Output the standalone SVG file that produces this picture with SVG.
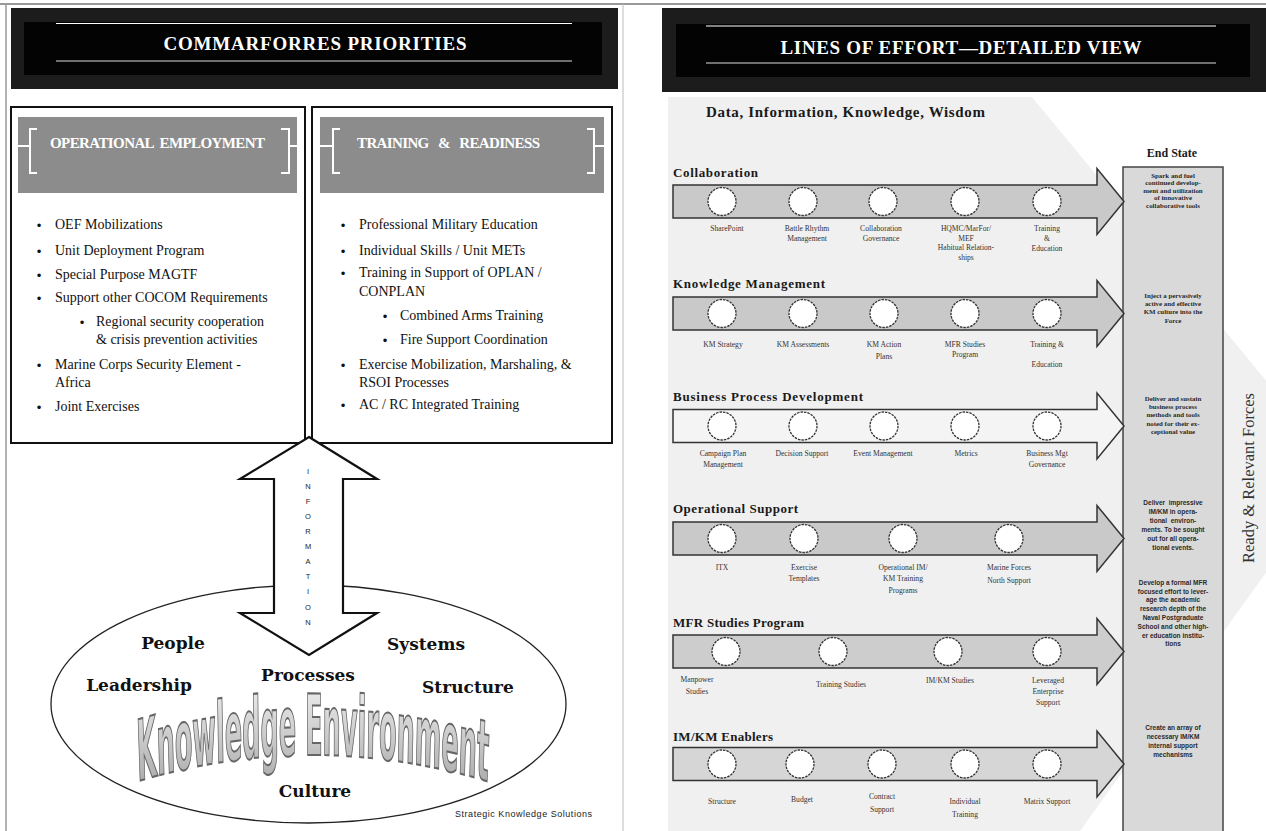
<svg xmlns="http://www.w3.org/2000/svg" width="1266" height="831" viewBox="0 0 1266 831">
<defs>
<style>
.hdr-t{font-family:"Liberation Serif",serif;font-weight:bold;font-size:19px;fill:#fff;text-anchor:middle}
.band-t{font-family:"Liberation Serif",serif;font-weight:bold;font-size:15px;fill:#fff;white-space:pre}
.li{font-family:"Liberation Serif",serif;font-size:14px;fill:#111}
.bul{font-family:"DejaVu Sans",sans-serif;font-size:12px;fill:#111;text-anchor:middle}
.ke{font-family:"DejaVu Serif",serif;font-weight:bold;font-size:17px;fill:#111;text-anchor:middle}
.info{font-family:"Liberation Sans",sans-serif;font-size:7.5px;fill:#222;text-anchor:middle}
.row-t{font-family:"Liberation Serif",serif;font-weight:bold;font-size:13px;fill:#1a1a1a}
.lab{font-family:"Liberation Serif",serif;font-size:7.6px;fill:#333;text-anchor:middle}
.es{font-family:"Liberation Serif",serif;font-weight:bold;font-size:6.9px;fill:#2a2a2a;text-anchor:middle}
.es2{font-family:"Liberation Sans",sans-serif;font-weight:bold;font-size:6.5px;fill:#2a2a2a;text-anchor:middle;white-space:pre}
.node{fill:#fff;stroke:#333;stroke-width:1.3;stroke-dasharray:2.5 1}
.arr{stroke:#333;stroke-width:1.5}
.brk{fill:none;stroke:#fff;stroke-width:2}
.box{fill:#fff;stroke:#111;stroke-width:2}
</style>
<linearGradient id="keg" x1="0" y1="0" x2="0" y2="1">
<stop offset="0" stop-color="#f2f2f2"/>
<stop offset="1" stop-color="#a0a0a0"/>
</linearGradient>
</defs>
<rect width="1266" height="831" fill="#fff"/>
<!-- frame lines -->
<line x1="0" y1="4" x2="1266" y2="4" stroke="#999" stroke-width="2"/>
<line x1="6" y1="4" x2="6" y2="831" stroke="#999" stroke-width="1.5"/>
<line x1="623" y1="4" x2="623" y2="831" stroke="#bbb" stroke-width="1"/>

<!-- LEFT PANEL -->
<g id="left-header">
<rect x="11" y="8" width="607" height="81" fill="#1c1c1c"/>
<rect x="24" y="22" width="578" height="53" fill="#030303"/>
<line x1="56" y1="23.5" x2="572" y2="23.5" stroke="#fff" stroke-width="1.2"/>
<line x1="56" y1="61" x2="572" y2="61" stroke="#ddd" stroke-width="1"/>
<text class="hdr-t" x="315" y="50" textLength="303">COMMARFORRES PRIORITIES</text>
</g>

<g id="box-operational">
<rect class="box" x="11" y="107" width="294" height="336"/>
<rect x="18" y="117" width="279" height="76" fill="#8c8c8c"/>
<path class="brk" d="M18 146H30M37 129H30V173H37M297 146H289M281 129H289V173H281"/>
<text class="band-t" x="50" y="148" textLength="215" lengthAdjust="spacing">OPERATIONAL  EMPLOYMENT</text>
<g class="bul"><text x="39" y="230">•</text><text x="39" y="256">•</text><text x="39" y="280">•</text><text x="39" y="303">•</text><text x="82" y="327">•</text><text x="39" y="370">•</text><text x="39" y="412">•</text></g>
<text class="li" x="55" y="229">OEF Mobilizations</text>
<text class="li" x="55" y="255">Unit Deployment Program</text>
<text class="li" x="55" y="279">Special Purpose MAGTF</text>
<text class="li" x="55" y="302">Support other COCOM Requirements</text>
<text class="li" x="96" y="326">Regional security cooperation</text>
<text class="li" x="96" y="344">&amp; crisis prevention activities</text>
<text class="li" x="55" y="369">Marine Corps Security Element -</text>
<text class="li" x="55" y="387">Africa</text>
<text class="li" x="55" y="411">Joint Exercises</text>
</g>

<g id="box-training">
<rect class="box" x="312" y="107" width="300" height="336"/>
<rect x="320" y="117" width="284" height="76" fill="#8c8c8c"/>
<path class="brk" d="M320 146H333M340 129H333V173H340M604 146H594M587 129H594V173H587"/>
<text class="band-t" x="357" y="148" textLength="183" lengthAdjust="spacing">TRAINING   &amp;   READINESS</text>
<g class="bul"><text x="343" y="230">•</text><text x="343" y="256">•</text><text x="343" y="278">•</text><text x="385" y="321">•</text><text x="385" y="345">•</text><text x="343" y="370">•</text><text x="343" y="410">•</text></g>
<text class="li" x="359" y="229">Professional Military Education</text>
<text class="li" x="359" y="255">Individual Skills / Unit METs</text>
<text class="li" x="359" y="277">Training in Support of OPLAN /</text>
<text class="li" x="359" y="296">CONPLAN</text>
<text class="li" x="400" y="320">Combined Arms Training</text>
<text class="li" x="400" y="344">Fire Support Coordination</text>
<text class="li" x="359" y="369">Exercise Mobilization, Marshaling, &amp;</text>
<text class="li" x="359" y="387">RSOI Processes</text>
<text class="li" x="359" y="409">AC / RC Integrated Training</text>
</g>

<g id="knowledge-environment">
<ellipse cx="308.5" cy="704" rx="257.5" ry="119" fill="#fff" stroke="#222" stroke-width="1.3"/>
<g transform="translate(133 0) scale(0.436 1.3)">
<path id="kepath" d="M-40 606.6Q412.8 555 865.6 606.6" fill="none"/>
<text style="font-family:'DejaVu Sans Condensed','DejaVu Sans',sans-serif;font-weight:bold;font-size:65px;text-anchor:middle" fill="url(#keg)" stroke="#666" stroke-width="1.6"><textPath href="#kepath" startOffset="50%">Knowledge Environment</textPath></text>
</g>
<text class="ke" x="173" y="649">People</text>
<text class="ke" x="426" y="650">Systems</text>
<text class="ke" x="308" y="681">Processes</text>
<text class="ke" x="139" y="691">Leadership</text>
<text class="ke" x="468" y="693">Structure</text>
<text class="ke" x="315" y="797">Culture</text>
<text x="523.5" y="817" text-anchor="middle" textLength="137" style="font-family:'Liberation Sans',sans-serif;font-size:9px;fill:#222">Strategic Knowledge Solutions</text>
</g>

<g id="connectors">
<polygon points="309,437 377,479 343,479 343,613 377,613 309,655 240,613 274,613 274,479 240,479" fill="#fff" stroke="#111" stroke-width="2.2" stroke-linejoin="miter"/>
<g class="info">
<text x="308" y="474">I</text><text x="308" y="489">N</text><text x="308" y="504">F</text><text x="308" y="519">O</text><text x="308" y="534">R</text><text x="308" y="549">M</text><text x="308" y="564">A</text><text x="308" y="579">T</text><text x="308" y="594">I</text><text x="308" y="610">O</text><text x="308" y="625">N</text>
</g>
</g>

<!-- RIGHT PANEL -->
<g id="right-background">
<polygon points="668,97 1032,97 1340,470 1080,831 668,831" fill="#f0f0f0"/>
</g>
<g id="right-header">
<rect x="662" y="8" width="604" height="84" fill="#1c1c1c"/>
<rect x="676" y="24" width="574" height="53" fill="#030303"/>
<line x1="706" y1="26" x2="1216" y2="26" stroke="#fff" stroke-width="1.2"/>
<line x1="706" y1="63" x2="1216" y2="63" stroke="#ddd" stroke-width="1"/>
<text class="hdr-t" x="961" y="54" textLength="361">LINES OF EFFORT—DETAILED VIEW</text>
</g>
<text x="706" y="117" textLength="279" style="font-family:'Liberation Serif',serif;font-weight:bold;font-size:15px;fill:#1a1a1a">Data, Information, Knowledge, Wisdom</text>

<g id="end-state">
<text x="1172" y="157" text-anchor="middle" style="font-family:'Liberation Serif',serif;font-weight:bold;font-size:12px;fill:#1a1a1a">End State</text>
<rect x="1123" y="167" width="100" height="670" fill="#d9d9d9" stroke="#444" stroke-width="1.5"/>
<text class="es" x="1173"><tspan x="1173" y="177.5">Spark and fuel</tspan><tspan x="1173" y="185">continued develop-</tspan><tspan x="1173" y="192.5">ment and utilization</tspan><tspan x="1173" y="200">of innovative</tspan><tspan x="1173" y="208">collaborative tools</tspan></text>
<text class="es" x="1173"><tspan x="1173" y="297.5">Inject a pervasively</tspan><tspan x="1173" y="305.5">active and effective</tspan><tspan x="1173" y="314">KM culture into the</tspan><tspan x="1173" y="322.5">Force</tspan></text>
<text class="es" x="1173"><tspan x="1173" y="400.5">Deliver and sustain</tspan><tspan x="1173" y="409">business process</tspan><tspan x="1173" y="417">methods and tools</tspan><tspan x="1173" y="425.5">noted for their ex-</tspan><tspan x="1173" y="433.5">ceptional value</tspan></text>
<text class="es2" x="1173"><tspan x="1173" y="504.5">Deliver  impressive</tspan><tspan x="1173" y="513.5">IM/KM in opera-</tspan><tspan x="1173" y="522.5">tional  environ-</tspan><tspan x="1173" y="531.5">ments. To be sought</tspan><tspan x="1173" y="540.5">out for all opera-</tspan><tspan x="1173" y="549.5">tional events.</tspan></text>
<text class="es2" x="1173"><tspan x="1173" y="584.5">Develop a formal MFR</tspan><tspan x="1173" y="593.5">focused effort to lever-</tspan><tspan x="1173" y="601.5">age the academic</tspan><tspan x="1173" y="610.5">research depth of the</tspan><tspan x="1173" y="619.5">Naval Postgraduate</tspan><tspan x="1173" y="628.5">School and other high-</tspan><tspan x="1173" y="637.5">er education institu-</tspan><tspan x="1173" y="645.5">tions</tspan></text>
<text class="es2" x="1173"><tspan x="1173" y="729.5">Create an array of</tspan><tspan x="1173" y="738.5">necessary IM/KM</tspan><tspan x="1173" y="747.5">internal support</tspan><tspan x="1173" y="756.5">mechanisms</tspan></text>
</g>
<text transform="translate(1254 478) rotate(-90)" text-anchor="middle" style="font-family:'Liberation Serif',serif;font-size:16.5px;fill:#333">Ready &amp; Relevant Forces</text>

<g id="row-collaboration">
<text class="row-t" x="673" y="177" textLength="85">Collaboration</text>
<polygon class="arr" fill="#c9c9c9" points="673,185 1097,185 1097,168.5 1124,201.5 1097,234.5 1097,218 673,218"/>
<circle class="node" cx="722" cy="201.5" r="14"/><circle class="node" cx="803" cy="201.5" r="14"/><circle class="node" cx="883" cy="201.5" r="14"/><circle class="node" cx="965" cy="201.5" r="14"/><circle class="node" cx="1047" cy="201.5" r="14"/>
<text class="lab" x="727" y="231">SharePoint</text>
<text class="lab"><tspan x="807" y="231">Battle Rhythm</tspan><tspan x="807" y="241">Management</tspan></text>
<text class="lab"><tspan x="881" y="231">Collaboration</tspan><tspan x="881" y="241">Governance</tspan></text>
<text class="lab"><tspan x="966" y="231">HQMC/MarFor/</tspan><tspan x="966" y="240.5">MEF</tspan><tspan x="966" y="250">Habitual Relation-</tspan><tspan x="966" y="259.5">ships</tspan></text>
<text class="lab"><tspan x="1047" y="231">Training</tspan><tspan x="1047" y="241">&amp;</tspan><tspan x="1047" y="251">Education</tspan></text>
</g>

<g id="row-knowledge-management">
<text class="row-t" x="673" y="288" textLength="152">Knowledge Management</text>
<polygon class="arr" fill="#c9c9c9" points="673,297 1097,297 1097,280.5 1124,313.5 1097,346.5 1097,330 673,330"/>
<circle class="node" cx="722" cy="313.5" r="14"/><circle class="node" cx="803" cy="313.5" r="14"/><circle class="node" cx="884" cy="313.5" r="14"/><circle class="node" cx="965" cy="313.5" r="14"/><circle class="node" cx="1047" cy="313.5" r="14"/>
<text class="lab" x="723" y="347">KM Strategy</text>
<text class="lab" x="803" y="347">KM Assessments</text>
<text class="lab"><tspan x="884" y="347">KM Action</tspan><tspan x="884" y="359">Plans</tspan></text>
<text class="lab"><tspan x="965" y="347">MFR Studies</tspan><tspan x="965" y="357">Program</tspan></text>
<text class="lab"><tspan x="1047" y="347">Training &amp;</tspan><tspan x="1047" y="367">Education</tspan></text>
</g>

<g id="row-business-process">
<text class="row-t" x="673" y="401" textLength="190">Business Process Development</text>
<polygon class="arr" fill="#f4f4f4" points="673,409.5 1097,409.5 1097,393 1124,426 1097,459 1097,442.5 673,442.5"/>
<circle class="node" cx="722" cy="426" r="14"/><circle class="node" cx="803" cy="426" r="14"/><circle class="node" cx="884" cy="426" r="14"/><circle class="node" cx="965" cy="426" r="14"/><circle class="node" cx="1047" cy="426" r="14"/>
<text class="lab"><tspan x="723" y="456">Campaign Plan</tspan><tspan x="723" y="467">Management</tspan></text>
<text class="lab" x="802" y="456">Decision Support</text>
<text class="lab" x="883" y="456">Event Management</text>
<text class="lab" x="966" y="456">Metrics</text>
<text class="lab"><tspan x="1047" y="456">Business Mgt</tspan><tspan x="1047" y="467">Governance</tspan></text>
</g>

<g id="row-operational-support">
<text class="row-t" x="673" y="513" textLength="125">Operational Support</text>
<polygon class="arr" fill="#c9c9c9" points="673,522 1097,522 1097,505.5 1124,538.5 1097,571.5 1097,555 673,555"/>
<circle class="node" cx="722" cy="538.5" r="14"/><circle class="node" cx="804" cy="538.5" r="14"/><circle class="node" cx="903" cy="538.5" r="14"/><circle class="node" cx="1009" cy="538.5" r="14"/>
<text class="lab" x="722" y="570">ITX</text>
<text class="lab"><tspan x="804" y="570">Exercise</tspan><tspan x="804" y="581">Templates</tspan></text>
<text class="lab"><tspan x="903" y="570">Operational IM/</tspan><tspan x="903" y="581">KM Training</tspan><tspan x="903" y="593">Programs</tspan></text>
<text class="lab"><tspan x="1009" y="570">Marine Forces</tspan><tspan x="1009" y="583">North Support</tspan></text>
</g>

<g id="row-mfr-studies">
<text class="row-t" x="673" y="627" textLength="131">MFR Studies Program</text>
<polygon class="arr" fill="#cdcdcd" points="673,635 1097,635 1097,618.5 1124,651.5 1097,684.5 1097,668 673,668"/>
<circle class="node" cx="726" cy="651.5" r="14"/><circle class="node" cx="833" cy="651.5" r="14"/><circle class="node" cx="948" cy="651.5" r="14"/><circle class="node" cx="1047" cy="651.5" r="14"/>
<text class="lab"><tspan x="697" y="682">Manpower</tspan><tspan x="697" y="694">Studies</tspan></text>
<text class="lab" x="841" y="687">Training Studies</text>
<text class="lab" x="950" y="683">IM/KM Studies</text>
<text class="lab"><tspan x="1048" y="683">Leveraged</tspan><tspan x="1048" y="694">Enterprise</tspan><tspan x="1048" y="705">Support</tspan></text>
</g>

<g id="row-imkm-enablers">
<text class="row-t" x="673" y="741" textLength="100">IM/KM Enablers</text>
<polygon class="arr" fill="#d6d6d6" points="673,747.5 1097,747.5 1097,731 1124,764 1097,797 1097,780.5 673,780.5"/>
<circle class="node" cx="722" cy="764" r="14"/><circle class="node" cx="800" cy="764" r="14"/><circle class="node" cx="882" cy="764" r="14"/><circle class="node" cx="965" cy="764" r="14"/><circle class="node" cx="1047" cy="764" r="14"/>
<text class="lab" x="722" y="804">Structure</text>
<text class="lab" x="802" y="802">Budget</text>
<text class="lab"><tspan x="882" y="799">Contract</tspan><tspan x="882" y="812">Support</tspan></text>
<text class="lab"><tspan x="965" y="804">Individual</tspan><tspan x="965" y="817">Training</tspan></text>
<text class="lab" x="1047" y="804">Matrix Support</text>
</g>
</svg>
